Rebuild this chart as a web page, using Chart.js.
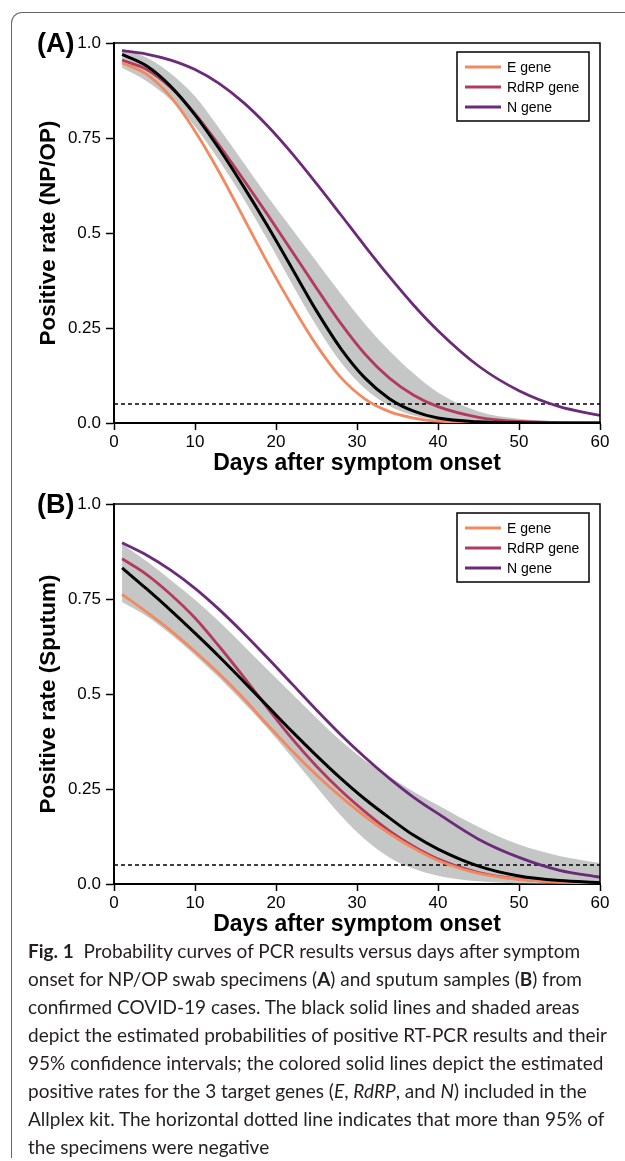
<!DOCTYPE html>
<html>
<head>
<meta charset="utf-8">
<script src="https://cdn.jsdelivr.net/npm/chart.js@4.4.1/dist/chart.umd.min.js"></script>
<style>
  html, body { margin: 0; padding: 0; background: #fff; }
  body { width: 625px; height: 1161px; position: relative; overflow: hidden; font-family: "Liberation Sans", Arial, sans-serif; }
  .frame { position: absolute; left: 11px; top: 12px; width: 700px; height: 1145px; border-left: 1.5px solid #666; border-top: 1.5px solid #666; border-top-left-radius: 11px; }
  .panel { position: absolute; left: 0; width: 625px; height: 480px; }
  .tag { position: absolute; left: 37px; font-weight: bold; font-size: 27px; line-height: 30px; color: #000; }
  .caption { position: absolute; left: 28px; top: 937px; font-family: Lato, "Open Sans", sans-serif; font-size: 19px; line-height: 28px; color: #231f20; white-space: nowrap; }
</style>
</head>
<body>
<div class="frame"></div>
<div class="panel" style="top:0"><canvas id="chart-a" width="625" height="480"></canvas></div>
<div class="panel" style="top:461px"><canvas id="chart-b" width="625" height="480"></canvas></div>
<div class="tag" style="top:28px">(A)</div>
<div class="tag" style="top:489px">(B)</div>
<div class="caption">
  <b>Fig. 1</b>&nbsp; Probability curves of PCR results versus days after symptom<br>
  onset for NP/OP swab specimens (<b>A</b>) and sputum samples (<b>B</b>) from<br>
  confirmed COVID-19 cases. The black solid lines and shaded areas<br>
  depict the estimated probabilities of positive RT-PCR results and their<br>
  95% confidence intervals; the colored solid lines depict the estimated<br>
  positive rates for the 3 target genes (<i>E</i>, <i>RdRP</i>, and <i>N</i>) included in the<br>
  Allplex kit. The horizontal dotted line indicates that more than 95% of<br>
  the specimens were negative
</div>
<script>
const days = [1, 4, 7, 10, 13, 16, 19, 22, 25, 28, 31, 34, 37, 40, 45, 50, 55, 60];
const cutoffDays = [0, 60];
const cutoffRate = [0.05, 0.05];
const xTicks = [0, 10, 20, 30, 40, 50, 60];
const yTicks = [0, 0.25, 0.5, 0.75, 1];
const yTickLabels = ["0.0", "0.25", "0.5", "0.75", "1.0"];
const genes = ["E gene", "RdRP gene", "N gene"];

// (A) NP/OP swabs
const npopAll = [0.97, 0.94, 0.886, 0.811, 0.721, 0.622, 0.517, 0.406, 0.295, 0.196, 0.118, 0.064, 0.031, 0.013, 0.003, 0.001, 0, 0];
const npopUpper = [0.985, 0.962, 0.92, 0.86, 0.775, 0.685, 0.595, 0.51, 0.425, 0.34, 0.26, 0.19, 0.13, 0.08, 0.03, 0.011, 0.004, 0.001];
const npopLower = [0.935, 0.90, 0.85, 0.78, 0.69, 0.59, 0.48, 0.365, 0.255, 0.16, 0.09, 0.045, 0.02, 0.008, 0.002, 0, 0, 0];
const npopE = [0.948, 0.918, 0.858, 0.768, 0.66, 0.54, 0.42, 0.308, 0.205, 0.12, 0.063, 0.03, 0.013, 0.005, 0.001, 0, 0, 0];
const npopRdRP = [0.955, 0.931, 0.883, 0.814, 0.73, 0.64, 0.547, 0.451, 0.355, 0.262, 0.181, 0.118, 0.073, 0.043, 0.015, 0.004, 0.001, 0];
const npopN = [0.98, 0.971, 0.955, 0.93, 0.893, 0.843, 0.781, 0.709, 0.63, 0.548, 0.465, 0.385, 0.31, 0.243, 0.15, 0.085, 0.043, 0.02];

// (B) sputum
const sputumAll = [0.832, 0.777, 0.72, 0.66, 0.598, 0.533, 0.467, 0.401, 0.338, 0.278, 0.223, 0.174, 0.128, 0.092, 0.047, 0.021, 0.009, 0.004];
const sputumUpper = [0.895, 0.85, 0.80, 0.748, 0.69, 0.627, 0.563, 0.50, 0.437, 0.377, 0.325, 0.282, 0.243, 0.207, 0.15, 0.104, 0.074, 0.055];
const sputumLower = [0.742, 0.705, 0.657, 0.602, 0.542, 0.477, 0.408, 0.333, 0.255, 0.18, 0.117, 0.07, 0.04, 0.022, 0.007, 0.002, 0.001, 0];
const sputumE = [0.762, 0.716, 0.667, 0.612, 0.553, 0.488, 0.418, 0.35, 0.287, 0.23, 0.178, 0.133, 0.094, 0.062, 0.028, 0.012, 0.005, 0.002];
const sputumRdRP = [0.856, 0.815, 0.762, 0.70, 0.625, 0.545, 0.462, 0.382, 0.31, 0.246, 0.19, 0.14, 0.099, 0.066, 0.03, 0.013, 0.005, 0.002];
const sputumN = [0.898, 0.866, 0.826, 0.778, 0.722, 0.66, 0.594, 0.526, 0.458, 0.393, 0.333, 0.278, 0.228, 0.185, 0.118, 0.07, 0.036, 0.018];

const FONT = '"Liberation Sans", Arial, sans-serif';
const E_COLOR = "#f28a60";
const RDRP_COLOR = "#b23a5d";
const N_COLOR = "#6b2b78";
const BAND_COLOR = "#c5c7c7";

Chart.defaults.font.family = FONT;
Chart.defaults.color = "#000";

const pts = (vals) => vals.map((v, i) => ({ x: days[i], y: v }));

// legend box drawn inside the plot, top right
const insideLegend = {
  id: "insideLegend",
  afterDatasetsDraw(chart) {
    const { ctx, chartArea } = chart;
    const items = chart.data.datasets.filter((d) => d.inLegend);
    const x0 = chartArea.right - 143;
    const y0 = chartArea.top + 9;
    ctx.save();
    ctx.fillStyle = "#fff";
    ctx.fillRect(x0, y0, 132, 69);
    ctx.strokeStyle = "#000";
    ctx.lineWidth = 1.5;
    ctx.strokeRect(x0, y0, 132, 69);
    ctx.font = "14px " + FONT;
    ctx.textBaseline = "middle";
    items.forEach((d, i) => {
      const y = y0 + 15 + i * 20;
      ctx.strokeStyle = d.borderColor;
      ctx.lineWidth = 3;
      ctx.beginPath();
      ctx.moveTo(x0 + 8, y);
      ctx.lineTo(x0 + 44, y);
      ctx.stroke();
      ctx.fillStyle = "#000";
      ctx.fillText(d.label, x0 + 50, y + 1);
    });
    ctx.restore();
  },
};

// top and right edges of the plot box
const boxEdges = {
  id: "boxEdges",
  afterDatasetsDraw(chart) {
    const { ctx, chartArea } = chart;
    ctx.save();
    ctx.strokeStyle = "#000";
    ctx.lineWidth = 1.5;
    ctx.beginPath();
    ctx.moveTo(chartArea.left, chartArea.top);
    ctx.lineTo(chartArea.right, chartArea.top);
    ctx.lineTo(chartArea.right, chartArea.bottom);
    ctx.stroke();
    ctx.restore();
  },
};

function makeChart(id, yTitle, all, upper, lower, e, rdrp, n) {
  return new Chart(document.getElementById(id), {
    type: "line",
    data: {
      datasets: [
        { label: "All", data: pts(all), borderColor: "#000", borderWidth: 3 },
        { label: genes[0], data: pts(e), borderColor: E_COLOR, borderWidth: 2.8, inLegend: true },
        { label: genes[1], data: pts(rdrp), borderColor: RDRP_COLOR, borderWidth: 2.8, inLegend: true },
        { label: genes[2], data: pts(n), borderColor: N_COLOR, borderWidth: 2.8, inLegend: true },
        {
          label: "cutoff",
          data: cutoffDays.map((d, i) => ({ x: d, y: cutoffRate[i] })),
          borderColor: "#000",
          borderWidth: 1.3,
          borderDash: [4, 3],
        },
        { label: "upper", data: pts(upper), borderWidth: 0, borderColor: BAND_COLOR, backgroundColor: BAND_COLOR, fill: "+1" },
        { label: "lower", data: pts(lower), borderWidth: 0, borderColor: BAND_COLOR, fill: false },
      ],
    },
    options: {
      responsive: false,
      animation: false,
      devicePixelRatio: 1,
      layout: { padding: { top: 43, right: 25, left: 0, bottom: 0 } },
      elements: {
        point: { radius: 0 },
        line: { cubicInterpolationMode: "monotone" },
      },
      plugins: { legend: { display: false }, tooltip: { enabled: false } },
      scales: {
        x: {
          type: "linear",
          min: 0,
          max: 60,
          afterBuildTicks: (s) => { s.ticks = xTicks.map((v) => ({ value: v })); },
          afterFit: (s) => { s.height = 57; },
          ticks: { font: { size: 17 }, padding: 2, maxRotation: 0, color: "#000" },
          grid: { drawOnChartArea: false, tickLength: 7, tickColor: "#000", tickWidth: 1.5 },
          border: { color: "#000", width: 2 },
          title: {
            display: true,
            text: "Days after symptom onset",
            font: { size: 23, weight: "bold" },
            color: "#000",
            padding: { top: 0, bottom: 3 },
          },
        },
        y: {
          type: "linear",
          min: 0,
          max: 1,
          afterBuildTicks: (s) => { s.ticks = yTicks.map((v) => ({ value: v })); },
          afterFit: (s) => { s.width = 114; },
          ticks: {
            font: { size: 17 },
            padding: 5,
            color: "#000",
            callback: (v) => yTickLabels[yTicks.indexOf(v)],
          },
          grid: { drawOnChartArea: false, tickLength: 8, tickColor: "#000", tickWidth: 1.5 },
          border: { color: "#000", width: 2 },
          title: {
            display: true,
            text: yTitle,
            font: { size: 22.5, weight: "bold" },
            color: "#000",
            padding: { top: 35, bottom: 0 },
          },
        },
      },
    },
    plugins: [boxEdges, insideLegend],
  });
}

makeChart("chart-a", "Positive rate (NP/OP)", npopAll, npopUpper, npopLower, npopE, npopRdRP, npopN);
makeChart("chart-b", "Positive rate (Sputum)", sputumAll, sputumUpper, sputumLower, sputumE, sputumRdRP, sputumN);
</script>
</body>
</html>
